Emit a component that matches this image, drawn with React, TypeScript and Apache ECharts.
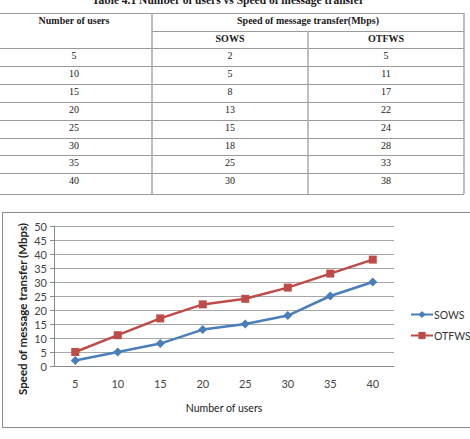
import React, { useEffect, useRef } from "react";
import * as echarts from "echarts";

// Number of users (table rows and x-axis categories)
const users = [5, 10, 15, 20, 25, 30, 35, 40];
// Speed of message transfer (Mbps)
const sows = [2, 5, 8, 13, 15, 18, 25, 30];
const otfws = [5, 11, 17, 22, 24, 28, 33, 38];

const seriesNames = ["SOWS", "OTFWS"];
const tableTitle = "Table 4.1 Number of users vs Speed of message transfer";
const figureCaption = "Figure 4.1 Number of users vs Speed of message transfer";
const colHeader = "Number of users";
const groupHeader = "Speed of message transfer(Mbps)";
const yAxisTitle = "Speed of message transfer (Mbps)";

const SERIF = "'Liberation Serif', 'Times New Roman', serif";
const SANS = "Lato, 'Open Sans', sans-serif";

function buildTable(): any[] {
  const els: any[] = [];
  const lineColor = "#9a9a9a";
  const x0 = 0;
  const x1 = 152;
  const x2 = 308;
  const x3 = 464;
  const top = 13;
  const hdr1 = 31;
  const hdr2 = 48;
  const rowH = 17.9;
  const bottom = 194;
  const rowTops = users.map((_, i) => hdr2 + i * rowH);

  const hline = (y: number, a: number, b: number) =>
    els.push({
      type: "line",
      shape: { x1: a, y1: y, x2: b, y2: y },
      style: { stroke: lineColor, lineWidth: 1 },
      silent: true,
    });
  const vline = (x: number, a: number, b: number) =>
    els.push({
      type: "line",
      shape: { x1: x, y1: a, x2: x, y2: b },
      style: { stroke: "#a8a8a8", lineWidth: 1.5 },
      silent: true,
    });

  hline(top + 0.5, x0, x3);
  hline(hdr1 + 0.5, x1, x3);
  hline(hdr2 + 0.5, x0, x3);
  rowTops.slice(1).forEach((y) => hline(Math.round(y) + 0.5, x0, x3));
  hline(bottom + 0.5, x0, x3);
  vline(x1, top, bottom);
  vline(x2, hdr1, bottom);
  vline(x3, top, bottom);

  const txt = (t: string, x: number, y: number, bold: boolean, size = 10) =>
    els.push({
      type: "text",
      x,
      y,
      silent: true,
      style: {
        text: t,
        fill: "#1a1a1a",
        font: `${bold ? "bold " : ""}${size}px ${SERIF}`,
        align: "center",
        verticalAlign: "middle",
      },
    });

  const c1 = (x0 + x1) / 2;
  const c2 = (x1 + x2) / 2;
  const c3 = (x2 + x3) / 2;
  txt(colHeader, c1 - 2, 20, true);
  txt(groupHeader, c2 + (c3 - c2) / 2, 20, true);
  txt(seriesNames[0], c2, 38, true);
  txt(seriesNames[1], c3, 38, true);
  users.forEach((u, i) => {
    const y = rowTops[i] + 7.5;
    txt(String(u), c1 - 2, y, false);
    txt(String(sows[i]), c2, y, false);
    txt(String(otfws[i]), c3, y, false);
  });

  // title above the table
  els.push({
    type: "text",
    x: 228,
    y: 0,
    silent: true,
    style: {
      text: tableTitle,
      fill: "#1a1a1a",
      font: `bold 11.5px ${SERIF}`,
      align: "center",
      verticalAlign: "middle",
    },
  });
  return els;
}

export default function App() {
  const ref = useRef<HTMLDivElement>(null);

  useEffect(() => {
    document.body.style.margin = "0";
    if (!ref.current) return;
    const chart = echarts.init(ref.current, undefined, { renderer: "svg" });

    const option: any = {
      animation: false,
      backgroundColor: "#ffffff",
      textStyle: { fontFamily: SANS },
      grid: { left: 54, right: 76, top: 226, bottom: 73 },
      legend: {
        orient: "vertical",
        left: 405,
        top: 304,
        itemWidth: 22,
        itemHeight: 9,
        itemGap: 10,
        data: seriesNames,
        textStyle: { fontSize: 10.5, color: "#333", fontFamily: SANS, padding: [0, 0, 0, -4] },
      },
      xAxis: {
        type: "category",
        data: users.map(String),
        boundaryGap: true,
        name: colHeader,
        nameLocation: "middle",
        nameGap: 36,
        nameTextStyle: { fontSize: 10.5, color: "#222", fontFamily: SANS },
        axisLine: { lineStyle: { color: "#8c8c8c" } },
        axisTick: { show: false },
        axisLabel: { fontSize: 11, color: "#444", margin: 12 },
      },
      yAxis: {
        type: "value",
        min: 0,
        max: 50,
        interval: 5,
        axisLine: { show: true, lineStyle: { color: "#8c8c8c" } },
        axisTick: { show: true, length: 4, lineStyle: { color: "#8c8c8c" } },
        axisLabel: { fontSize: 11, color: "#444", margin: 7 },
        splitLine: { lineStyle: { color: "#a6a6a6", width: 1 } },
      },
      series: [
        {
          name: seriesNames[0],
          type: "line",
          data: sows,
          symbol: "diamond",
          symbolSize: 9,
          lineStyle: { width: 2.5, color: "#4a7ebb" },
          itemStyle: { color: "#4a7ebb" },
        },
        {
          name: seriesNames[1],
          type: "line",
          data: otfws,
          symbol: "rect",
          symbolSize: 8,
          lineStyle: { width: 2.5, color: "#be4b48" },
          itemStyle: { color: "#be4b48" },
        },
      ],
      graphic: [
        ...buildTable(),
        {
          type: "rect",
          shape: { x: 2.5, y: 212.5, width: 470, height: 215 },
          style: { fill: "none", stroke: "#8c8c8c", lineWidth: 1 },
          silent: true,
          z: -1,
        },
        {
          type: "text",
          x: 22,
          y: 309,
          rotation: Math.PI / 2,
          silent: true,
          style: {
            text: yAxisTitle,
            fill: "#222",
            font: `bold 11.5px ${SANS}`,
            align: "center",
            verticalAlign: "middle",
          },
        },
        {
          type: "text",
          x: 250,
          y: 443,
          silent: true,
          style: {
            text: figureCaption,
            fill: "#1a1a1a",
            font: `bold 13.5px ${SERIF}`,
            align: "center",
            verticalAlign: "middle",
          },
        },
      ],
    };

    chart.setOption(option);
    return () => chart.dispose();
  }, []);

  return <div ref={ref} style={{ width: 470, height: 439 }} />;
}
